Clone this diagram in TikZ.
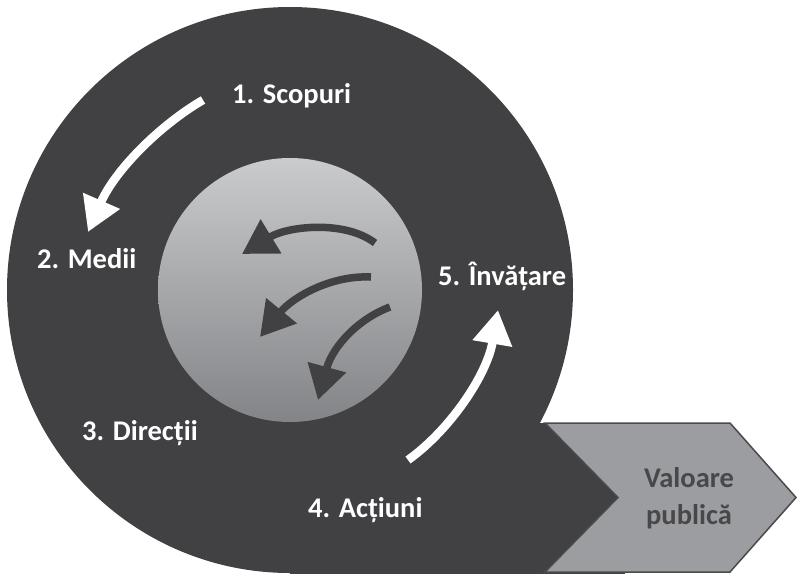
\documentclass[tikz,border=0pt]{standalone}
\usepackage{fontspec}
\setmainfont{Carlito}
\usetikzlibrary{arrows.meta}
\definecolor{ringdark}{HTML}{414143}
\definecolor{coretop}{HTML}{CACBCD}
\definecolor{corebot}{HTML}{838487}
\definecolor{chevfill}{HTML}{9C9DA0}
\definecolor{chevline}{HTML}{4A4A4C}
\definecolor{chevtext}{HTML}{48484A}
\begin{document}
\begin{tikzpicture}[x=1pt,y=-1pt,
  steplabel/.style={font=\bfseries\fontsize{28.5}{34}\selectfont, text=white, inner sep=0, anchor=base west},
  valuelabel/.style={font=\bfseries\fontsize{28.5}{34}\selectfont, text=chevtext, inner sep=0, anchor=base},
  cyclearrow/.style={draw=white, line width=8.5pt, -{Triangle[length=34pt,width=38pt]}},
  innerarrow/.style={draw=ringdark, line width=7.5pt, -{Triangle[length=34pt,width=38pt]}},
  chevron/.style={fill=chevfill, draw=chevline, line width=1.5pt, line join=miter}]
\useasboundingbox (0,0) rectangle (797,574);

% outer ring and its tail towards the output chevron
\node[circle, fill=ringdark, inner sep=0, minimum size=566pt] (ring) at (290,290) {};
\fill[ringdark] (290,423) rectangle (625,574);

% output chevron
\draw[chevron] (545,423) -- (730,423) -- (796,497.5) -- (730,572) -- (545,572) -- (618,497.5) -- cycle;
\node[valuelabel] (val1) at (689,487) {Valoare};
\node[valuelabel] (val2) at (689,524) {publică};

% inner shaded core
\shade[top color=coretop, bottom color=corebot] (290,290) circle[radius=132pt];
\node[circle, inner sep=0, minimum size=264pt] (core) at (290,290) {};

% step labels
\node[steplabel] (s1) at (232,103) {1. Scopuri};
\node[steplabel] (s2) at (37,268) {2. Medii};
\node[steplabel] (s3) at (82,440) {3. Direcții};
\node[steplabel] (s4) at (308,517) {4. Acțiuni};
\node[steplabel] (s5) at (438,285) {5. Învățare};

% white arrows of the cycle
\coordinate (wa1) at (203,100);
\coordinate (wa2) at (88,232);
\coordinate (wb1) at (408,460);
\coordinate (wb2) at (498,310);
\draw[cyclearrow] (wa1) .. controls (160,125) and (115,170) .. (wa2);
\draw[cyclearrow] (wb1) .. controls (450,430) and (487,375) .. (wb2);

% dark arrows inside the core
\coordinate (ia1) at (375,243);
\coordinate (ia2) at (242,254);
\coordinate (ib1) at (371,277);
\coordinate (ib2) at (260,337);
\coordinate (ic1) at (390,307);
\coordinate (ic2) at (318,400);
\draw[innerarrow] (ia1) .. controls (345,220) and (288,226) .. (ia2);
\draw[innerarrow] (ib1) .. controls (330,275) and (292,298) .. (ib2);
\draw[innerarrow] (ic1) .. controls (360,318) and (333,345) .. (ic2);
\end{tikzpicture}
\end{document}
